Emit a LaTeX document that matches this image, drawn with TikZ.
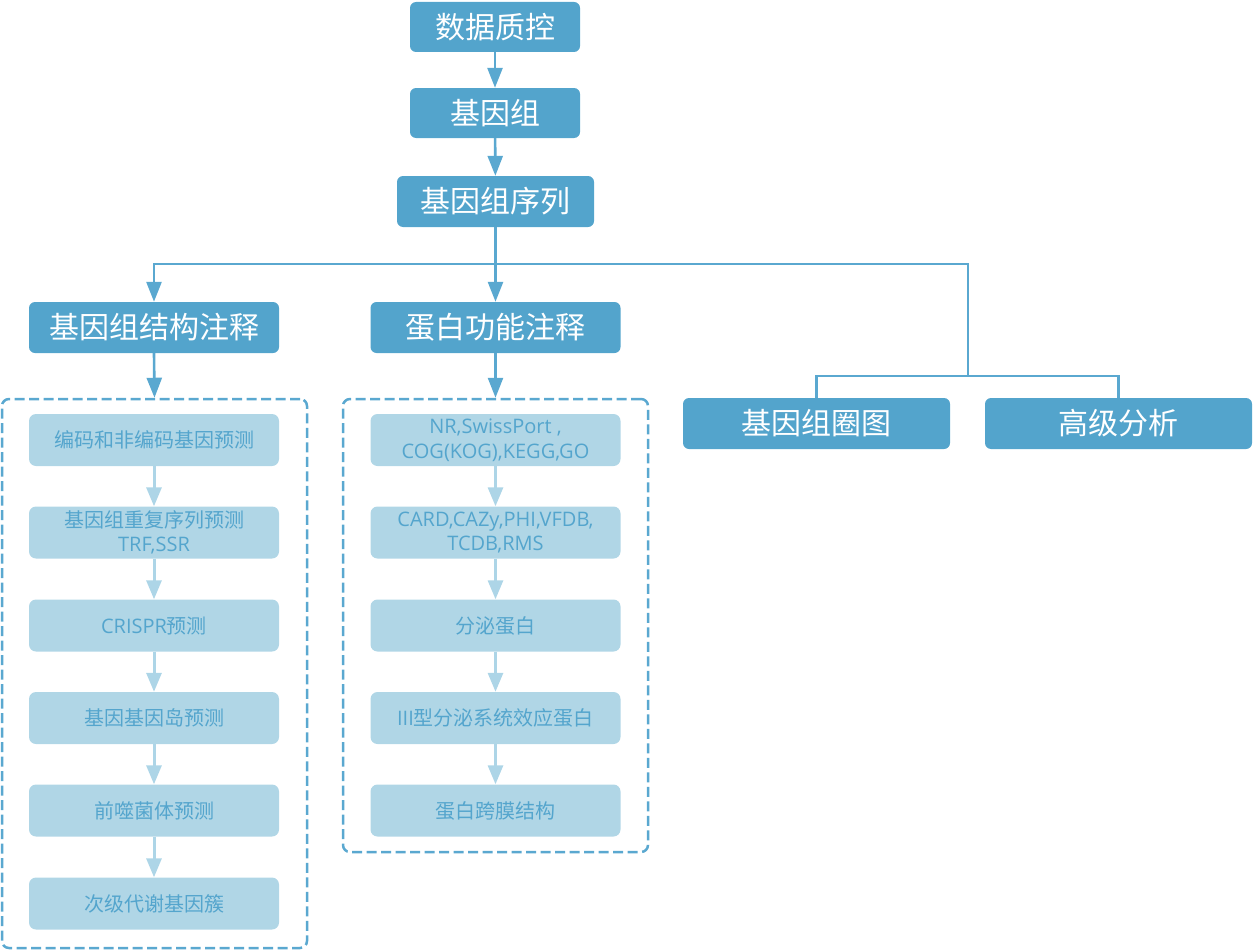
\documentclass[tikz,border=0pt]{standalone}
\usepackage{fontspec}
\setmainfont{Noto Sans CJK SC}
\newfontfamily\latn{Open Sans}
\usetikzlibrary{arrows.meta}
\definecolor{darkb}{RGB}{83,164,204}
\definecolor{lightb}{RGB}{176,214,230}
\definecolor{lighttext}{RGB}{84,165,205}
\definecolor{lightarr}{RGB}{173,213,231}
\definecolor{linec}{RGB}{90,168,208}
\tikzset{
  topbox/.style={fill=darkb, draw=none, rounded corners=6pt, text=white, font=\fontsize{30}{34}\selectfont, inner sep=0pt},
  midbox/.style={fill=darkb, draw=none, rounded corners=6pt, text=white, font=\fontsize{30}{34}\selectfont, inner sep=0pt, minimum width=250pt, minimum height=51pt},
  subbox/.style={fill=lightb, draw=none, rounded corners=7pt, text=lighttext, font=\fontsize{20}{24.5}\selectfont, inner sep=0pt, minimum width=250pt, minimum height=52pt, align=center},
  dashbox/.style={draw=linec, line width=2.5pt, dash pattern=on 10pt off 4.5pt, rounded corners=7pt, inner sep=0pt, minimum width=305pt},
  conn/.style={draw=linec, line width=2.6pt},
  darr/.style={conn, -{Triangle[length=20pt, width=15pt]}},
  larr/.style={draw=lightarr, line width=3pt, -{Triangle[length=19pt, width=15pt]}},
}
\begin{document}
\begin{tikzpicture}[x=1pt, y=-1pt]
\useasboundingbox (0,0) rectangle (1253,950);
% top chain
\node[topbox, minimum width=170pt, minimum height=50pt] (qc) at (495,27) {数据质控};
\node[topbox, minimum width=170pt, minimum height=50pt] (gen) at (495,113) {基因组};
\node[topbox, minimum width=197pt, minimum height=51pt] (seq) at (495.5,201.5) {基因组序列};
% level 2
\node[midbox] (struct) at (154,327.5) {基因组结构注释};
\node[midbox] (prot) at (495.5,327.5) {蛋白功能注释};
\node[midbox, minimum width=267pt] (circ) at (816.5,423.5) {基因组圈图};
\node[midbox, minimum width=267pt] (adv) at (1118.5,423.5) {高级分析};
% dashed containers
\node[dashbox, minimum height=549pt] (lbox) at (154.5,673.5) {};
\node[dashbox, minimum height=453pt] (rbox) at (495.5,625.5) {};
% left sub boxes
\node[subbox] (l1) at (154,440) {编码和非编码基因预测};
\node[subbox] (l2) at (154,532.5) {基因组重复序列预测\\{\latn TRF,SSR}};
\node[subbox] (l3) at (154,625.5) {{\latn CRISPR}预测};
\node[subbox] (l4) at (154,718) {基因基因岛预测};
\node[subbox] (l5) at (154,810.5) {前噬菌体预测};
\node[subbox] (l6) at (154,903.5) {次级代谢基因簇};
% right sub boxes
\node[subbox] (r1) at (495.5,440) {{\latn NR,SwissPort ,}\\{\latn COG(KOG),KEGG,GO}};
\node[subbox] (r2) at (495.5,532.5) {{\latn CARD,CAZy,PHI,VFDB,}\\{\latn TCDB,RMS}};
\node[subbox] (r3) at (495.5,625.5) {分泌蛋白};
\node[subbox] (r4) at (495.5,718) {{\latn III}型分泌系统效应蛋白};
\node[subbox] (r5) at (495.5,810.5) {蛋白跨膜结构};
% connectors
\coordinate (j1) at (495.5,264);
\coordinate (j2) at (968,264);
\coordinate (j3) at (968,376);
\draw[darr] (qc) -- (gen);
\draw[darr] (gen) -- (seq);
\draw[conn] (seq.south) -- (j1);
\draw[darr] (j1) -| (struct.north);
\draw[darr] (j1) -- (prot.north);
\draw[conn] (j1) -- (j2) -- (j3);
\draw[conn] (j3) -| (circ.north);
\draw[conn] (j3) -| (adv.north);
\draw[darr] (struct.south) -- (lbox.north);
\draw[darr] (prot.south) -- (rbox.north);
\foreach \a/\b in {l1/l2,l2/l3,l3/l4,l4/l5,l5/l6,r1/r2,r2/r3,r3/r4,r4/r5}
  \draw[larr] (\a.south) -- (\b.north);
\end{tikzpicture}
\end{document}
